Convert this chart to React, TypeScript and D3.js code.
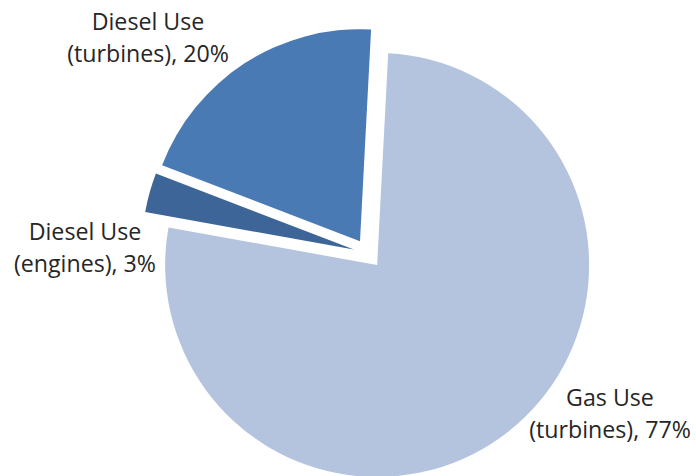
import React from "react";
import * as d3 from "d3";

const categories = ["Gas Use (turbines)", "Diesel Use (engines)", "Diesel Use (turbines)"];
const values = [77, 3, 20];
const labelLine1 = ["Gas Use", "Diesel Use", "Diesel Use"];
const labelLine2 = ["(turbines), 77%", "(engines), 3%", "(turbines), 20%"];
const colors = ["#B4C4DF", "#3D6597", "#4A7AB3"];
const labelPos: [number, number][] = [
  [610, 406],
  [85, 240],
  [148, 30],
];

export default function App() {
  const W = 696;
  const H = 476;
  const cx = 368;
  const cy = 253.5;
  const r = 212;
  const explode = 14.7;
  const start = (3 * Math.PI) / 180;
  const pie = d3
    .pie<number>()
    .sort(null)
    .value((d) => d)
    .startAngle(start)
    .endAngle(start + 2 * Math.PI);
  const arcs = pie(values);
  const arc = d3.arc<d3.PieArcDatum<number>>().innerRadius(0).outerRadius(r);

  return (
    <svg
      width={W}
      height={H}
      style={{ position: "absolute", left: 0, top: 0, background: "#fff" }}
    >
      <rect width={W} height={H} fill="#fff" />
      {arcs.map((a, i) => {
        const mid = (a.startAngle + a.endAngle) / 2;
        const dx = explode * Math.sin(mid);
        const dy = -explode * Math.cos(mid);
        return (
          <path
            key={categories[i]}
            d={arc(a) || ""}
            transform={`translate(${cx + dx},${cy + dy})`}
            fill={colors[i]}
          />
        );
      })}
      {labelPos.map(([x, y], i) => (
        <text
          key={"l" + i}
          x={x}
          y={y}
          textAnchor="middle"
          fontFamily="'Open Sans', sans-serif"
          fontSize={23.2}
          fill="#262626"
        >
          <tspan x={x} y={y}>{labelLine1[i]}</tspan>
          <tspan x={x} y={y + 31.5}>{labelLine2[i]}</tspan>
        </text>
      ))}
    </svg>
  );
}
